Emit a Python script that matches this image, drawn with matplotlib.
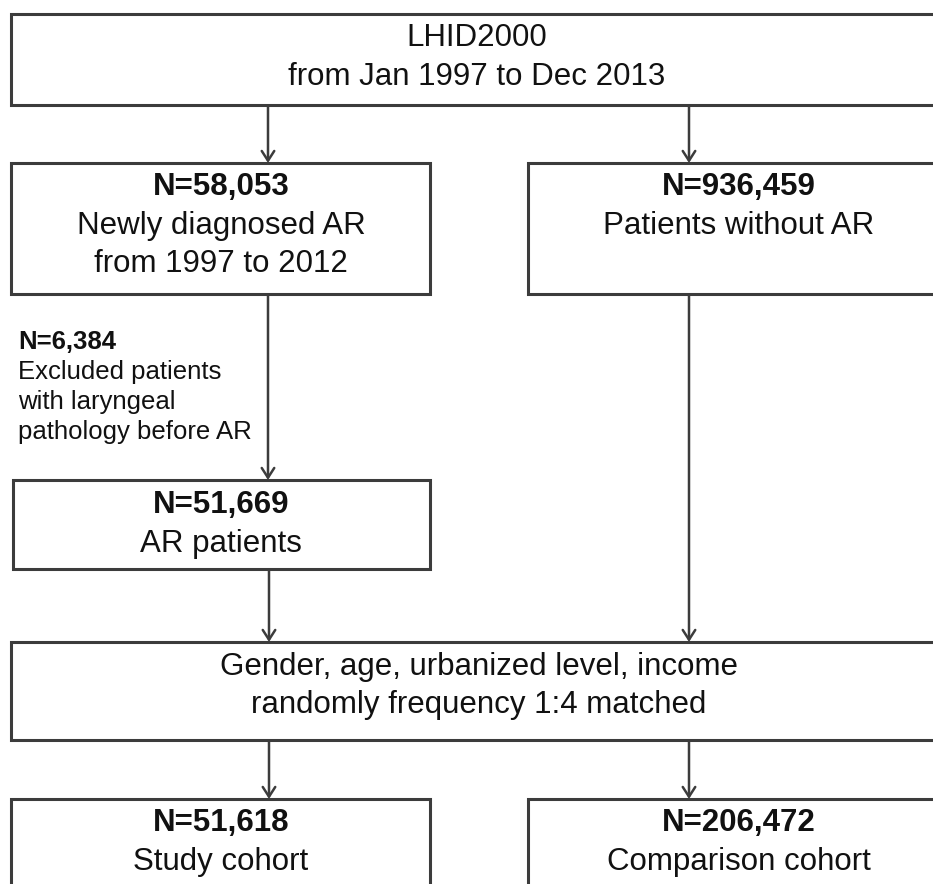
import matplotlib.pyplot as plt
from matplotlib.patches import Rectangle

# counts shown in the flow chart
source_name = "LHID2000"
source_period = "from Jan 1997 to Dec 2013"
n_new_ar = 58053
n_without_ar = 936459
n_excluded = 6384
n_ar = 51669
n_study = 51618
n_comparison = 206472

new_ar_lines = ["Newly diagnosed AR", "from 1997 to 2012"]
without_ar_lines = ["Patients without AR"]
excluded_lines = ["Excluded patients", "with laryngeal", "pathology before AR"]
ar_lines = ["AR patients"]
match_lines = ["Gender, age, urbanized level, income", "randomly frequency 1:4 matched"]
study_lines = ["Study cohort"]
comparison_lines = ["Comparison cohort"]

edge = "#3c3c3c"
fam = ["Liberation Sans", "DejaVu Sans"]

fig = plt.figure(figsize=(9.33, 8.84), dpi=100)
ax = fig.add_axes([0, 0, 1, 1])
ax.set_xlim(0, 933)
ax.set_ylim(884, 0)
ax.axis("off")


def box(x0, y0, x1, y1):
    ax.add_patch(Rectangle((x0, y0), x1 - x0, y1 - y0, facecolor="white",
                           edgecolor=edge, lw=2.2, zorder=2))


def arrow(x, y0, y1):
    ax.annotate("", xy=(x, y1), xytext=(x, y0),
                arrowprops=dict(arrowstyle="->,head_length=0.7,head_width=0.45",
                                color=edge, lw=1.8, shrinkA=0, shrinkB=0),
                zorder=1)


def lines(x, ys, texts, bold_first=False, size=22.5, ha="center"):
    for i, (y, t) in enumerate(zip(ys, texts)):
        w = "bold" if (bold_first and i == 0) else "normal"
        ax.text(x, y, t, ha=ha, va="center", fontsize=size, fontweight=w,
                family=fam, color="#111111", zorder=3)


# boxes
box(11, 14, 945, 105)
box(11, 163, 430, 294)
box(528, 163, 950, 294)
box(13, 480, 430, 569)
box(11, 642, 945, 740)
box(11, 799, 430, 900)
box(528, 799, 950, 900)

# arrows
arrow(268, 105, 163)
arrow(689, 105, 163)
arrow(268, 294, 480)
arrow(689, 294, 642)
arrow(269, 569, 642)
arrow(269, 740, 799)
arrow(689, 740, 799)

# text
lines(477, [38, 77], [source_name, source_period])
lines(221, [187, 226, 264], [f"N={n_new_ar:,}"] + new_ar_lines, bold_first=True)
lines(739, [187, 226], [f"N={n_without_ar:,}"] + without_ar_lines, bold_first=True)
lines(18, [342, 372, 402, 432], [f"N={n_excluded:,}"] + excluded_lines,
      bold_first=True, size=18.5, ha="left")
lines(221, [505, 544], [f"N={n_ar:,}"] + ar_lines, bold_first=True)
lines(479, [667, 705], match_lines)
lines(221, [823, 862], [f"N={n_study:,}"] + study_lines, bold_first=True)
lines(739, [823, 862], [f"N={n_comparison:,}"] + comparison_lines, bold_first=True)

fig.savefig("out.png", dpi=100)
